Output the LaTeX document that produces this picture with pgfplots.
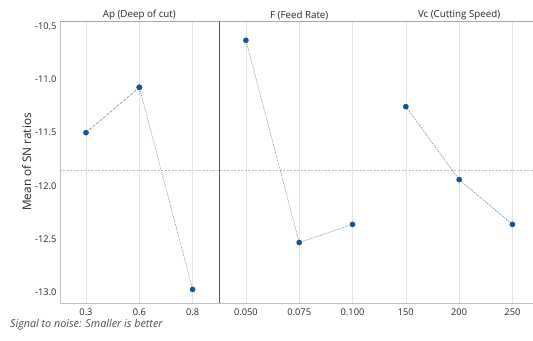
\documentclass[border=0pt]{standalone}
\usepackage{pgfplots}
\pgfplotsset{compat=1.18}
\usepackage{fontspec}
\setmainfont{Open Sans}
\definecolor{mk}{HTML}{0F5597}
\definecolor{ln}{HTML}{6F8FA8}
\begin{document}
\begin{tikzpicture}
\path[use as bounding box] (-60bp,-38bp) rectangle (473bp,303bp);
\begin{axis}[
  scale only axis, width=473bp, height=282bp,
  at={(0,0)}, anchor=south west,
  xmin=-0.488, xmax=8.386,
  ymin=-13.097, ymax=-10.453,
  axis line style={draw=none},
  xtick={0,...,8},
  xticklabels={0.3,0.6,0.8,0.050,0.075,0.100,150,200,250},
  ytick={-13,-12.5,-12,-11.5,-11,-10.5},
  yticklabels={-13.0,-12.5,-12.0,-11.5,-11.0,-10.5},
  /pgf/number format/assume math mode=true,
  tick label style={font=\fontsize{9.3}{11}\selectfont, text=black!85},
  xtick pos=bottom, ytick pos=left,
  xticklabel style={yshift=-2bp},
  xmajorgrids, major grid style={black!10, line width=0.5pt},
  major tick length=0pt,
  ylabel={Mean of SN ratios},
  ylabel style={font=\fontsize{11.8}{13}\selectfont, text=black!85},
  ylabel shift=-3bp,
  clip=false,
]
% axis frame
\draw[black!25, line width=0.6pt] (rel axis cs:0,0) -- (rel axis cs:0,1);
\draw[black!25, line width=0.6pt] (rel axis cs:0,0) -- (rel axis cs:1,0);
\draw[black!35, line width=0.8pt] (rel axis cs:0,1) -- (rel axis cs:1,1);
\draw[black!65, line width=0.6pt] (axis cs:2.5,-13.097) -- (axis cs:2.5,-10.453);
% reference mean line
\addplot[black!25, dash pattern=on 2pt off 1.5pt, line width=0.5pt, forget plot] coordinates {(-0.488,-11.85) (8.386,-11.85)};
% panel titles
\node[anchor=south, font=\fontsize{9.8}{11}\selectfont, text=black!85, inner sep=1pt] at (axis cs:1,-10.453) {Ap (Deep of cut)};
\node[anchor=south, font=\fontsize{9.8}{11}\selectfont, text=black!85, inner sep=1pt] at (axis cs:4,-10.453) {F (Feed Rate)};
\node[anchor=south, font=\fontsize{9.8}{11}\selectfont, text=black!85, inner sep=1pt] at (axis cs:7,-10.453) {Vc (Cutting Speed)};
% data
\addplot[ln, line width=0.6pt, dash pattern=on 3pt off 1.5pt, mark=*, mark size=2.5pt, mark options={solid, fill=mk, draw=mk}] coordinates {(0,-11.50) (1,-11.075)};
\addplot[ln, line width=0.6pt, dash pattern=on 1pt off 1pt, mark=*, mark size=2.5pt, mark options={solid, fill=mk, draw=mk}] coordinates {(1,-11.075) (2,-12.97)};
\addplot[ln, line width=0.6pt, dash pattern=on 1pt off 1pt, mark=*, mark size=2.5pt, mark options={solid, fill=mk, draw=mk}] coordinates {(3,-10.634) (4,-12.53) (5,-12.36)};
\addplot[ln, line width=0.6pt, dash pattern=on 1.5pt off 1pt, mark=*, mark size=2.5pt, mark options={solid, fill=mk, draw=mk}] coordinates {(6,-11.256) (7,-11.94) (8,-12.36)};
\end{axis}
\node[anchor=west, font=\fontsize{10.8}{12}\selectfont\itshape, text=black!70, inner sep=0pt] at (-50bp,-22bp) {Signal to noise: Smaller is better};
\end{tikzpicture}
\end{document}
